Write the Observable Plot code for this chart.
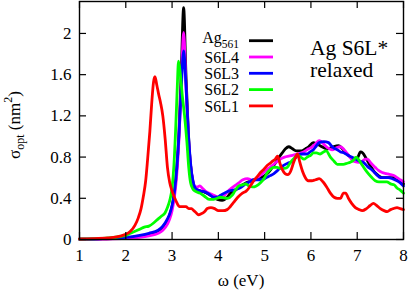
<!DOCTYPE html>
<html>
<head>
<meta charset="utf-8">
<script src="https://cdn.jsdelivr.net/npm/d3@7"></script>
<script src="https://cdn.jsdelivr.net/npm/@observablehq/plot@0.6"></script>
<style>
html, body { margin: 0; padding: 0; background: #fff; }
svg { display: block; }
</style>
</head>
<body>
<div id="chart"></div>
<script>
// ---- data ----
const xTicks = [1, 2, 3, 4, 5, 6, 7, 8];
const yTicks = [0, 0.4, 0.8, 1.2, 1.6, 2];
const seriesNames = ["Ag561", "S6L4", "S6L3", "S6L2", "S6L1"];
const seriesColors = ["#000000", "#ff00ff", "#0000ff", "#00ff00", "#ff0000"];

const ag561 = [[1,0.003],[1.5,0.006],[2,0.015],[2.3,0.03],[2.5,0.045],[2.7,0.075],[2.8,0.11],[2.9,0.18],[2.95,0.24],[3.0,0.32],[3.05,0.45],[3.1,0.68],[3.15,1.05],[3.2,1.65],[3.25,2.25],[3.3,1.6],[3.35,1.05],[3.4,0.72],[3.45,0.56],[3.5,0.49],[3.55,0.48],[3.62,0.47],[3.7,0.46],[3.83,0.43],[3.98,0.39],[4.08,0.38],[4.19,0.41],[4.26,0.45],[4.37,0.48],[4.48,0.52],[4.6,0.55],[4.7,0.57],[4.87,0.59],[5.06,0.64],[5.15,0.69],[5.23,0.74],[5.3,0.79],[5.38,0.84],[5.45,0.88],[5.52,0.9],[5.6,0.88],[5.68,0.86],[5.8,0.86],[5.88,0.88],[5.95,0.9],[6.05,0.94],[6.12,0.93],[6.2,0.91],[6.36,0.88],[6.48,0.9],[6.6,0.91],[6.7,0.87],[6.8,0.82],[6.9,0.79],[7.0,0.79],[7.07,0.85],[7.12,0.84],[7.2,0.78],[7.29,0.71],[7.38,0.65],[7.46,0.62],[7.55,0.6],[7.65,0.6],[7.78,0.6],[7.86,0.58],[7.93,0.57],[8,0.54]];

const s6l4 = [[1,0.002],[1.5,0.004],[2,0.01],[2.3,0.02],[2.5,0.035],[2.7,0.06],[2.8,0.09],[2.9,0.15],[2.95,0.2],[3.0,0.28],[3.05,0.41],[3.1,0.62],[3.15,0.98],[3.2,1.52],[3.25,2.01],[3.3,1.5],[3.35,1.02],[3.4,0.72],[3.45,0.57],[3.5,0.51],[3.55,0.51],[3.6,0.52],[3.65,0.5],[3.72,0.47],[3.8,0.45],[3.9,0.43],[4.0,0.41],[4.08,0.41],[4.17,0.45],[4.26,0.49],[4.35,0.52],[4.44,0.55],[4.53,0.58],[4.63,0.59],[4.7,0.58],[4.76,0.57],[4.87,0.61],[4.98,0.65],[5.08,0.69],[5.17,0.72],[5.25,0.75],[5.34,0.78],[5.43,0.8],[5.52,0.81],[5.62,0.82],[5.71,0.83],[5.84,0.85],[5.95,0.88],[6.03,0.9],[6.1,0.93],[6.18,0.96],[6.25,0.94],[6.31,0.91],[6.4,0.88],[6.46,0.87],[6.55,0.89],[6.64,0.9],[6.72,0.87],[6.79,0.83],[6.86,0.79],[6.92,0.76],[7.02,0.75],[7.11,0.76],[7.17,0.78],[7.22,0.78],[7.3,0.74],[7.39,0.7],[7.46,0.67],[7.54,0.65],[7.63,0.64],[7.72,0.63],[7.8,0.62],[7.86,0.6],[7.93,0.58],[8,0.56]];

const s6l3 = [[1,0.003],[1.5,0.008],[2,0.02],[2.3,0.04],[2.5,0.06],[2.7,0.09],[2.8,0.13],[2.9,0.2],[2.95,0.25],[3.0,0.33],[3.05,0.46],[3.1,0.68],[3.15,1.02],[3.2,1.48],[3.25,1.83],[3.3,1.5],[3.35,1.05],[3.4,0.74],[3.45,0.57],[3.5,0.5],[3.56,0.48],[3.63,0.47],[3.72,0.46],[3.8,0.44],[3.9,0.41],[3.97,0.41],[4.05,0.43],[4.13,0.45],[4.22,0.47],[4.32,0.48],[4.41,0.49],[4.5,0.51],[4.59,0.54],[4.68,0.56],[4.76,0.58],[4.85,0.58],[4.95,0.58],[5.03,0.6],[5.12,0.62],[5.2,0.64],[5.28,0.67],[5.35,0.7],[5.41,0.72],[5.5,0.74],[5.6,0.76],[5.66,0.79],[5.73,0.82],[5.82,0.83],[5.92,0.83],[5.98,0.85],[6.05,0.87],[6.12,0.91],[6.18,0.94],[6.28,0.95],[6.38,0.94],[6.44,0.91],[6.49,0.89],[6.57,0.87],[6.64,0.85],[6.72,0.84],[6.79,0.82],[6.88,0.8],[6.96,0.78],[7.05,0.76],[7.13,0.75],[7.22,0.71],[7.33,0.67],[7.42,0.63],[7.5,0.6],[7.58,0.6],[7.67,0.6],[7.76,0.59],[7.86,0.57],[7.93,0.55],[8,0.52]];

const s6l2 = [[1,0.003],[1.5,0.01],[2,0.04],[2.1,0.06],[2.2,0.08],[2.3,0.1],[2.4,0.12],[2.5,0.13],[2.6,0.16],[2.7,0.2],[2.78,0.23],[2.85,0.26],[2.9,0.31],[2.95,0.38],[3.0,0.5],[3.04,0.72],[3.08,1.1],[3.11,1.45],[3.14,1.73],[3.18,1.6],[3.22,1.4],[3.27,1.2],[3.32,0.95],[3.36,0.7],[3.4,0.55],[3.45,0.49],[3.5,0.47],[3.6,0.45],[3.7,0.42],[3.8,0.39],[3.9,0.39],[4.05,0.41],[4.2,0.4],[4.3,0.43],[4.37,0.48],[4.44,0.52],[4.52,0.53],[4.59,0.54],[4.66,0.52],[4.74,0.51],[4.82,0.52],[4.91,0.55],[5.0,0.6],[5.06,0.65],[5.12,0.68],[5.19,0.7],[5.27,0.7],[5.34,0.69],[5.42,0.69],[5.49,0.7],[5.56,0.75],[5.64,0.79],[5.71,0.82],[5.78,0.8],[5.85,0.78],[5.92,0.8],[6.0,0.82],[6.05,0.84],[6.12,0.84],[6.2,0.83],[6.27,0.85],[6.33,0.86],[6.42,0.8],[6.5,0.76],[6.57,0.73],[6.64,0.73],[6.7,0.73],[6.78,0.74],[6.85,0.75],[6.92,0.77],[6.98,0.8],[7.04,0.77],[7.11,0.72],[7.17,0.68],[7.24,0.64],[7.32,0.6],[7.39,0.57],[7.47,0.56],[7.56,0.56],[7.64,0.56],[7.72,0.54],[7.8,0.53],[7.86,0.5],[7.93,0.48],[8,0.45]];

const s6l1 = [[1,0.005],[1.3,0.008],[1.6,0.015],[1.8,0.025],[1.9,0.035],[2.0,0.05],[2.1,0.08],[2.2,0.14],[2.27,0.21],[2.33,0.3],[2.38,0.42],[2.43,0.57],[2.47,0.77],[2.52,1.05],[2.56,1.32],[2.6,1.53],[2.63,1.58],[2.67,1.5],[2.71,1.41],[2.75,1.33],[2.8,1.2],[2.85,0.98],[2.9,0.7],[2.95,0.55],[3.0,0.47],[3.05,0.41],[3.1,0.36],[3.16,0.32],[3.22,0.32],[3.3,0.32],[3.36,0.3],[3.42,0.3],[3.47,0.28],[3.52,0.26],[3.57,0.24],[3.63,0.25],[3.7,0.27],[3.76,0.3],[3.84,0.31],[3.92,0.3],[4.0,0.28],[4.1,0.28],[4.19,0.29],[4.26,0.32],[4.33,0.36],[4.42,0.41],[4.52,0.45],[4.6,0.47],[4.66,0.5],[4.72,0.54],[4.78,0.58],[4.84,0.61],[4.91,0.65],[4.98,0.68],[5.06,0.72],[5.12,0.74],[5.17,0.76],[5.23,0.78],[5.28,0.81],[5.33,0.74],[5.38,0.68],[5.44,0.64],[5.5,0.63],[5.56,0.66],[5.62,0.74],[5.67,0.8],[5.71,0.83],[5.76,0.75],[5.82,0.66],[5.88,0.6],[5.94,0.57],[6.02,0.57],[6.1,0.58],[6.18,0.59],[6.26,0.56],[6.34,0.51],[6.42,0.45],[6.5,0.41],[6.57,0.4],[6.64,0.4],[6.7,0.45],[6.75,0.45],[6.81,0.4],[6.88,0.35],[6.96,0.31],[7.04,0.29],[7.11,0.28],[7.2,0.3],[7.28,0.33],[7.35,0.35],[7.42,0.33],[7.5,0.3],[7.58,0.28],[7.65,0.27],[7.72,0.29],[7.78,0.3],[7.86,0.31],[7.93,0.3],[8,0.29]];

const seriesData = [ag561, s6l4, s6l3, s6l2, s6l1];

// ---- chart ----
const FONT = "'Liberation Serif', 'Times New Roman', serif";
const W = 409, H = 291, ML = 79, MR = 6, MT = 1, MB = 52;
const plotW = W - ML - MR, plotH = H - MT - MB;
const tickLen = 7;

const lineMarks = seriesData.map((d, i) =>
  Plot.line(d, {x: p => p[0], y: p => p[1], stroke: seriesColors[i], strokeWidth: 2.8, curve: "monotone-x"})
);

const chart = Plot.plot({
  width: W, height: H,
  marginLeft: ML, marginRight: MR, marginTop: MT, marginBottom: MB,
  style: `font-family: ${FONT}; font-size: 17px; background: #fff; color: #000;`,
  x: {domain: [1, 8]},
  y: {domain: [0, 2.31]},
  marks: [
    ...lineMarks,
    Plot.frame({stroke: "#000", strokeWidth: 1.4}),
    Plot.ruleX(xTicks, {x: d => d, insetTop: plotH - tickLen, stroke: "#000", strokeWidth: 1.2}),
    Plot.ruleX(xTicks, {x: d => d, insetBottom: plotH - tickLen, stroke: "#000", strokeWidth: 1.2}),
    Plot.ruleY(yTicks, {y: d => d, insetRight: plotW - tickLen, stroke: "#000", strokeWidth: 1.2}),
    Plot.ruleY(yTicks, {y: d => d, insetLeft: plotW - tickLen, stroke: "#000", strokeWidth: 1.2}),
    Plot.axisX(xTicks, {tickSize: 0, tickPadding: 9, label: null, fontSize: 17, fontFamily: FONT, tickFormat: d => String(d)}),
    Plot.axisY(yTicks, {tickSize: 0, tickPadding: 8, label: null, fontSize: 17, fontFamily: FONT, tickFormat: d => String(d)})
  ]
});

document.getElementById("chart").appendChild(chart);

// ---- text annotations: axis titles and legend ----
const svg = d3.select(chart);
const g = svg.append("g").attr("font-family", FONT).attr("fill", "#000").attr("text-anchor", "start");

// x-axis title
g.append("text").attr("x", ML + plotW / 2).attr("y", 286).attr("text-anchor", "middle")
  .attr("font-size", 17).text("ω (eV)");

// y-axis title with subscript and superscript
const yl = g.append("text").attr("transform", "translate(20,125) rotate(-90)")
  .attr("text-anchor", "middle").attr("font-size", 17);
yl.append("tspan").text("σ");
yl.append("tspan").attr("font-size", 12).attr("dy", 4).text("opt");
yl.append("tspan").attr("dy", -4).text(" (nm");
yl.append("tspan").attr("font-size", 12).attr("dy", -8).text("2");
yl.append("tspan").attr("dy", 8).text(")");

// legend
const legX = 239, lineX1 = 249, lineX2 = 273, legY0 = 40.7, legDY = 16.3;
seriesNames.forEach((name, i) => {
  const y = legY0 + i * legDY;
  const t = g.append("text").attr("x", legX).attr("text-anchor", "end").attr("font-size", 16);
  if (name === "Ag561") {
    t.attr("y", y + 2.5);
    t.append("tspan").text("Ag");
    t.append("tspan").attr("font-size", 11.5).attr("dy", 4.5).text("561");
  } else {
    t.attr("y", y + 5.8).text(name);
  }
  svg.append("line").attr("x1", lineX1).attr("x2", lineX2).attr("y1", y).attr("y2", y)
    .attr("stroke", seriesColors[i]).attr("stroke-width", 2.8);
});

// annotation
g.append("text").attr("x", 310).attr("y", 55).attr("font-size", 21.5).text("Ag S6L*");
g.append("text").attr("x", 310).attr("y", 76.5).attr("font-size", 21.5).text("relaxed");
</script>
</body>
</html>
